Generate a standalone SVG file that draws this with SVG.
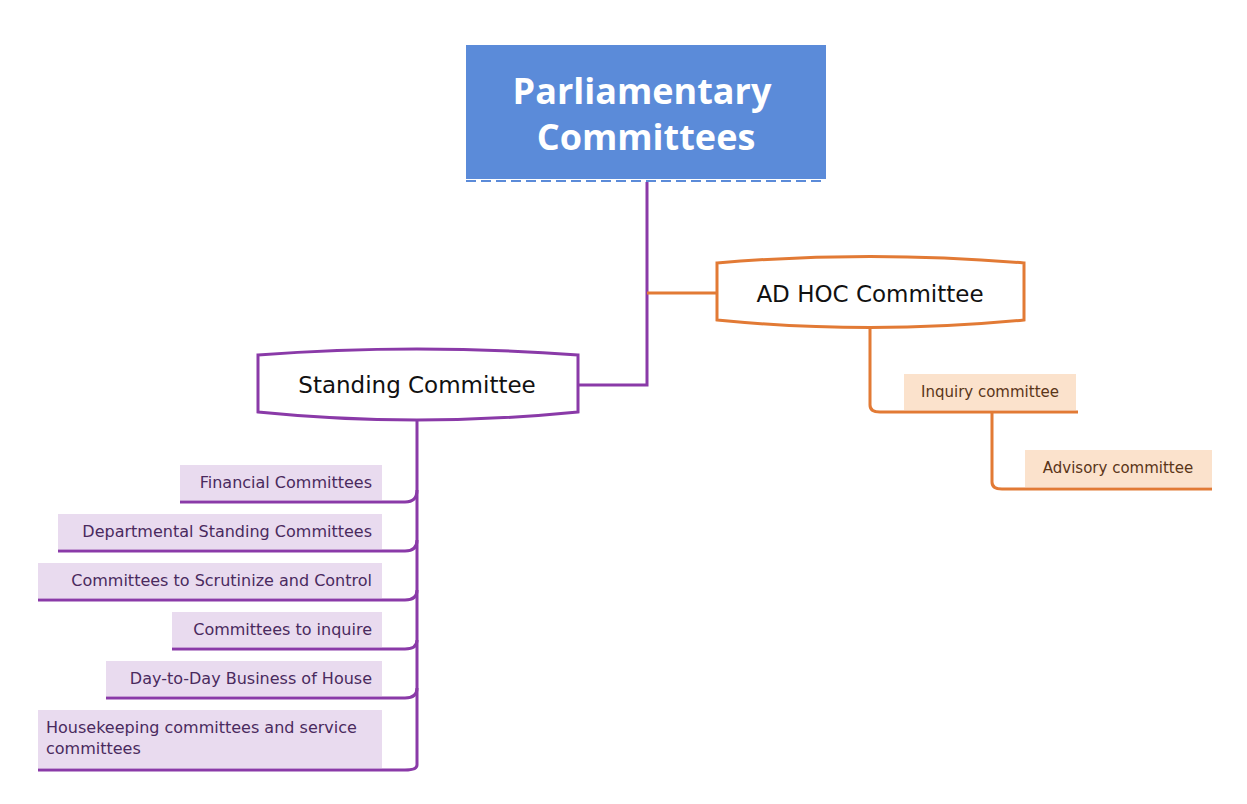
<svg xmlns="http://www.w3.org/2000/svg" width="1247" height="804" viewBox="0 0 1247 804">
<style>
.p{fill:none;stroke:#8a3aa8;stroke-width:3}
.o{fill:none;stroke:#e27a35;stroke-width:3}
.pt{font-family:"DejaVu Sans","Liberation Sans",sans-serif;font-size:16px;fill:#4a2a5e}
.ot{font-family:"DejaVu Sans","Liberation Sans",sans-serif;font-size:15px;fill:#5a3518}
.pb{fill:#e9dbef}
.ob{fill:#fbe2cc}
</style>
<rect width="1247" height="804" fill="#fff"/>
<g id="connectors">
<path class="p" d="M647 182 V385 H578"/>
<path class="o" d="M647 293 H717"/>
<path class="p" d="M417 420 V765 Q417 770 405 770 H38"/>
<path class="p" d="M417 490 Q417 502 405 502 H180"/>
<path class="p" d="M417 540 Q417 551 405 551 H58"/>
<path class="p" d="M417 590 Q417 600 405 600 H38"/>
<path class="p" d="M417 640 Q417 649 405 649 H172"/>
<path class="p" d="M417 688 Q417 698 405 698 H106"/>
<path class="o" d="M870 326 V405 Q870 412 880 412 H1078"/>
<path class="o" d="M992 412 V482 Q992 489 1002 489 H1212"/>
</g>
<g id="root">
<rect x="466" y="45" width="360" height="134" fill="#5b8bd9"/>
<line x1="466" y1="181" x2="826" y2="181" stroke="#5b8bd9" stroke-width="2" stroke-dasharray="10,5"/>
<text x="642" y="104" text-anchor="middle" font-family="'Open Sans','Liberation Sans',sans-serif" font-weight="bold" font-size="36" fill="#fff">Parliamentary</text>
<text x="646" y="150" text-anchor="middle" font-family="'Open Sans','Liberation Sans',sans-serif" font-weight="bold" font-size="36" fill="#fff">Committees</text>
</g>
<g id="standing">
<path d="M258 355 Q416 343 578 355 V412 Q416 428 258 412 Z" fill="#fff" stroke="#8a3aa8" stroke-width="3"/>
<text x="417" y="393" text-anchor="middle" font-family="'DejaVu Sans','Liberation Sans',sans-serif" font-size="23" fill="#111">Standing Committee</text>
</g>
<g id="adhoc">
<path d="M717 263 Q870 250 1024 263 V320 Q870 335 717 320 Z" fill="#fff" stroke="#e27a35" stroke-width="3"/>
<text x="870" y="302" text-anchor="middle" font-family="'DejaVu Sans','Liberation Sans',sans-serif" font-size="23" fill="#111">AD HOC Committee</text>
</g>
<g id="financial"><rect class="pb" x="180" y="465" width="202" height="35"/><text class="pt" x="372" y="488" text-anchor="end">Financial Committees</text></g>
<g id="departmental"><rect class="pb" x="58" y="514" width="324" height="35"/><text class="pt" x="372" y="537" text-anchor="end">Departmental Standing Committees</text></g>
<g id="scrutinize"><rect class="pb" x="38" y="563" width="344" height="35"/><text class="pt" x="372" y="586" text-anchor="end">Committees to Scrutinize and Control</text></g>
<g id="inquire"><rect class="pb" x="172" y="612" width="210" height="35"/><text class="pt" x="372" y="635" text-anchor="end">Committees to inquire</text></g>
<g id="daytoday"><rect class="pb" x="106" y="661" width="276" height="35"/><text class="pt" x="372" y="684" text-anchor="end">Day-to-Day Business of House</text></g>
<g id="housekeeping"><rect class="pb" x="38" y="710" width="344" height="58"/><text class="pt" x="46" y="733">Housekeeping committees and service</text><text class="pt" x="46" y="754">committees</text></g>
<g id="inquiry"><rect class="ob" x="904" y="374" width="172" height="36"/><text class="ot" x="990" y="397" text-anchor="middle">Inquiry committee</text></g>
<g id="advisory"><rect class="ob" x="1025" y="450" width="187" height="37"/><text class="ot" x="1118" y="473" text-anchor="middle">Advisory committee</text></g>
</svg>
